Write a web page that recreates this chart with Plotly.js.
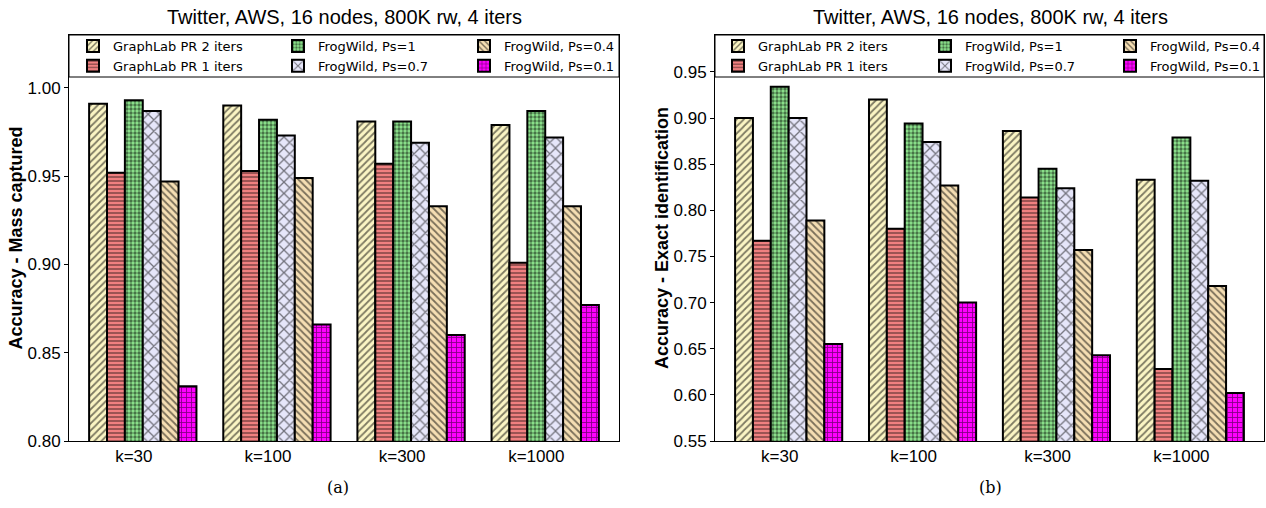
<!DOCTYPE html>
<html><head><meta charset="utf-8">
<script src="https://cdn.plot.ly/plotly-3.0.1.min.js"></script>
<style>html,body{margin:0;padding:0;background:#fff}#chart{width:1266px;height:508px}</style>
</head><body><div id="chart"></div>
<script>
// ---- data ----
const categories = ["k=30", "k=100", "k=300", "k=1000"];
const seriesNames = ["GraphLab PR 2 iters", "GraphLab PR 1 iters", "FrogWild, Ps=1", "FrogWild, Ps=0.7", "FrogWild, Ps=0.4", "FrogWild, Ps=0.1"];
// (a) Accuracy - Mass captured
const massGL2  = [0.991, 0.990, 0.981, 0.979];
const massGL1  = [0.952, 0.953, 0.957, 0.901];
const massFW1  = [0.993, 0.982, 0.981, 0.987];
const massFW07 = [0.987, 0.973, 0.969, 0.972];
const massFW04 = [0.947, 0.949, 0.933, 0.933];
const massFW01 = [0.831, 0.866, 0.860, 0.877];
// (b) Accuracy - Exact identification
const exactGL2  = [0.900, 0.920, 0.886, 0.833];
const exactGL1  = [0.767, 0.780, 0.814, 0.628];
const exactFW1  = [0.934, 0.894, 0.845, 0.879];
const exactFW07 = [0.900, 0.874, 0.824, 0.832];
const exactFW04 = [0.789, 0.827, 0.757, 0.718];
const exactFW01 = [0.655, 0.700, 0.643, 0.602];
const yTicksA = [0.80, 0.85, 0.90, 0.95, 1.00];
const yTicksB = [0.55, 0.60, 0.65, 0.70, 0.75, 0.80, 0.85, 0.90, 0.95];

// ---- styling ----
const W = 1266, H = 508;
const px = x => x / W, py = y => 1 - y / H;
const FONT = "Liberation Sans, Arial, sans-serif";
const styles = [
  {color: "#fbf5c4", shape: "/",  size: 5, solidity: 0.35},
  {color: "#f08080", shape: "-",  size: 4, solidity: 0.35},
  {color: "#8fe88f", shape: ".",  size: 4, solidity: 0.55},
  {color: "#e6e6fa", shape: "x",  size: 8, solidity: 0.3},
  {color: "#f5deb3", shape: "\\", size: 5, solidity: 0.35},
  {color: "#ff00ff", shape: "+",  size: 5, solidity: 0.3}
];
const bw = 0.8 / 6;
const massSeries = [massGL2, massGL1, massFW1, massFW07, massFW04, massFW01];
const exactSeries = [exactGL2, exactGL1, exactFW1, exactFW07, exactFW04, exactFW01];

const traces = [];
function addPanel(series, xa, ya, legendBase) {
  series.forEach((vals, j) => {
    const s = styles[j];
    const col = Math.floor(j / 2);
    traces.push({
      type: "bar",
      name: seriesNames[j],
      x: categories.map((c, i) => i + (j + 0.5) * bw),
      y: vals,
      width: bw,
      xaxis: xa, yaxis: ya,
      legend: "legend" + (legendBase + col === 1 ? "" : legendBase + col),
      marker: {
        color: s.color,
        line: {color: "#000", width: 2},
        pattern: {shape: s.shape, size: s.size, solidity: s.solidity, fgcolor: "#000", bgcolor: s.color, fillmode: "overlay"}
      },
      hoverinfo: "name+y"
    });
  });
}
addPanel(massSeries, "x", "y", 1);
addPanel(exactSeries, "x2", "y2", 4);

const tickvals = categories.map((c, i) => i + 2.5 * bw);
function xaxis(d0, d1, anchor) {
  return {domain: [px(d0), px(d1)], range: [-0.15, 3.95], anchor: anchor,
    tickvals: tickvals, ticktext: categories, ticks: "", showgrid: false, zeroline: false,
    showline: true, mirror: true, linecolor: "#000", linewidth: 1,
    tickfont: {family: FONT, size: 17, color: "#000"}, fixedrange: true};
}
function yaxis(range, ticks, title, anchor, standoff) {
  return {domain: [py(441), py(35)], range: range, anchor: anchor,
    tickvals: ticks, tickformat: ".2f", ticks: "outside", ticklen: 4, tickcolor: "#000",
    showgrid: false, zeroline: false, showline: true, mirror: true, linecolor: "#000", linewidth: 1,
    tickfont: {family: FONT, size: 17, color: "#000"},
    title: {text: title, font: {family: FONT, size: 18, color: "#000", weight: "bold"}, standoff: standoff},
    fixedrange: true};
}
const legendColsA = [73, 278, 464];
const legendColsB = [718, 925, 1110];
const layout = {
  width: W, height: H, margin: {l: 0, r: 0, t: 0, b: 0},
  paper_bgcolor: "#fff", plot_bgcolor: "#fff", barmode: "overlay", bargap: 0,
  xaxis: xaxis(69, 619, "y"),
  yaxis: yaxis([0.80, 1.03], yTicksA, "Accuracy - Mass captured", "x", 0),
  xaxis2: xaxis(715, 1264, "y2"),
  yaxis2: yaxis([0.55, 0.99], yTicksB, "Accuracy - Exact identification", "x2", 0),
  shapes: [
    {type: "rect", xref: "paper", yref: "paper", x0: px(69), x1: px(619), y0: py(77), y1: py(35), line: {color: "#000", width: 1}, fillcolor: "#fff", layer: "above"},
    {type: "rect", xref: "paper", yref: "paper", x0: px(715), x1: px(1264), y0: py(77), y1: py(35), line: {color: "#000", width: 1}, fillcolor: "#fff", layer: "above"}
  ],
  annotations: [
    {text: "Twitter, AWS, 16 nodes, 800K rw, 4 iters", xref: "paper", yref: "paper", x: px(344), y: py(17), xanchor: "center", yanchor: "middle", showarrow: false, font: {family: FONT, size: 20, color: "#000"}},
    {text: "Twitter, AWS, 16 nodes, 800K rw, 4 iters", xref: "paper", yref: "paper", x: px(990), y: py(17), xanchor: "center", yanchor: "middle", showarrow: false, font: {family: FONT, size: 20, color: "#000"}},
    {text: "(a)", xref: "paper", yref: "paper", x: px(338), y: py(487), xanchor: "center", yanchor: "middle", showarrow: false, font: {family: "DejaVu Serif, Liberation Serif, serif", size: 16, color: "#000"}},
    {text: "(b)", xref: "paper", yref: "paper", x: px(990), y: py(487), xanchor: "center", yanchor: "middle", showarrow: false, font: {family: "DejaVu Serif, Liberation Serif, serif", size: 16, color: "#000"}}
  ]
};
const allCols = legendColsA.concat(legendColsB);
allCols.forEach((xp, k) => {
  const key = "legend" + (k === 0 ? "" : (k + 1));
  layout[key] = {x: px(xp), y: py(31), xanchor: "left", yanchor: "top", orientation: "v",
    bgcolor: "rgba(0,0,0,0)", borderwidth: 0, font: {family: "DejaVu Sans, sans-serif", size: 13, color: "#000"},
    tracegroupgap: 0, itemclick: false, itemdoubleclick: false};
});
Plotly.newPlot("chart", traces, layout, {displayModeBar: false, staticPlot: true});
</script></body></html>
